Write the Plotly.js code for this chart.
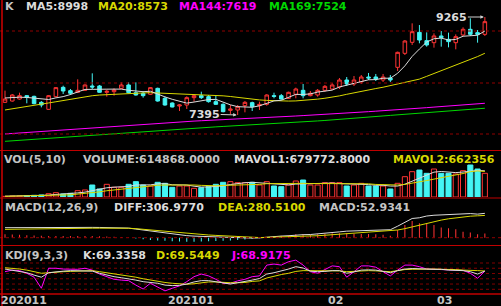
<!DOCTYPE html>
<html><head><meta charset="utf-8">
<script src="https://cdn.plot.ly/plotly-3.0.1.min.js"></script>
<style>html,body{margin:0;padding:0;background:#000;}#chart{width:501px;height:306px;}</style>
</head><body><div id="chart"></div>
<script>
// ---------------- DATA ----------------
const open = [7637,7662,7700,7764,7751,7637,7503,7745,7923,7860, 7828,7866,7949,7949,7828,7840,7904,7968,7821,7809, 7790,7904,7713,7624,7567,7586,7726,7764,7745,7650, 7599,7484,7491,7573,7631,7573,7599,7764,7764,7713, 7790,7866,7764,7777,7866,7891,7929,8063,7987,8025, 8120,8120,8063,8101,8305,8572,8782,8972,8814,8775, 8903,8839,8775,8922,9030,8966,8934];
const high = [7860,7796,7821,7777,7764,7662,7777,7929,7955,7891, 8076,7980,8190,7968,7879,7904,8018,8018,8018,7853, 7929,7917,7745,7637,7599,7751,7790,7840,7777,7764, 7618,7586,7586,7662,7650,7650,7790,7821,7796,7840, 7917,7987,7853,7891,7968,8006,8101,8120,8139,8158, 8197,8178,8178,8158,8604,8826,9144,9112,8972,8953, 8998,8966,8934,9068,9240,9017,9265];
const low = [7624,7650,7688,7618,7599,7541,7497,7732,7796,7777, 7815,7853,7885,7821,7745,7764,7891,7809,7764,7726, 7777,7650,7573,7541,7471,7510,7650,7700,7631,7586, 7446,7408,7395,7446,7471,7491,7573,7713,7688,7700, 7713,7713,7751,7745,7840,7872,7891,7949,7949,7987, 8063,8044,8025,8025,8235,8540,8731,8763,8699,8680, 8699,8686,8648,8903,8903,8775,8903];
const close = [7700,7777,7764,7732,7611,7586,7764,7917,7853,7809, 7866,7968,7929,7828,7847,7872,7968,7821,7777,7764, 7917,7662,7586,7548,7586,7726,7764,7726,7650,7599, 7459,7510,7554,7637,7554,7599,7777,7751,7700,7828, 7891,7764,7809,7866,7942,7968,8063,7987,8063,8120, 8101,8082,8120,8063,8591,8807,8985,8826,8731,8903, 8871,8795,8890,9030,8934,8934,9176];

const ma5 = [7720,7730,7735,7730,7717,7694,7691,7722,7746,7786, 7842,7883,7885,7880,7888,7889,7889,7867,7857,7840, 7849,7788,7741,7695,7660,7622,7642,7670,7690,7693, 7640,7589,7554,7552,7543,7571,7624,7664,7676,7731, 7789,7787,7798,7832,7854,7870,7930,7965,8005,8040, 8067,8071,8097,8097,8191,8333,8513,8654,8788,8850, 8863,8825,8838,8898,8904,8917,8998];
const ma20 = [7491,7512,7531,7550,7570,7600,7625,7648,7670,7695, 7725,7748,7763,7776,7785,7793,7799,7805,7810,7816, 7821,7816,7811,7808,7804,7800,7795,7787,7778,7770, 7761,7748,7730,7712,7695,7683,7674,7665,7662,7661, 7664,7672,7682,7698,7715,7732,7760,7790,7820,7848, 7875,7900,7925,7955,7985,8015,8045,8080,8133,8185, 8240,8290,8345,8400,8455,8510,8573];
const ma144 = [7033,7043,7054,7063,7072,7083,7092,7101,7112,7122, 7131,7141,7152,7161,7170,7181,7190,7199,7210,7220, 7229,7240,7250,7258,7265,7271,7279,7286,7292,7300, 7307,7313,7321,7328,7334,7342,7349,7355,7363,7370, 7376,7384,7391,7397,7405,7414,7422,7432,7441,7449, 7459,7468,7476,7486,7496,7505,7516,7526,7535,7546, 7556,7566,7578,7589,7599,7610,7619];
const ma169 = [6893,6903,6914,6923,6933,6944,6953,6962,6973,6983, 6993,7002,7013,7023,7032,7043,7053,7062,7073,7083, 7092,7103,7113,7121,7129,7136,7145,7153,7160,7169, 7177,7184,7193,7201,7208,7217,7225,7232,7241,7249, 7256,7265,7273,7282,7291,7300,7311,7322,7332,7344, 7355,7365,7377,7388,7398,7410,7421,7431,7443,7454, 7464,7474,7483,7494,7504,7514,7524];

const volume = [17000,26000,26000,35000,43000,52000,86000,112000,78000,95000, 164000,182000,311000,208000,329000,251000,251000,329000,398000,311000, 285000,381000,355000,251000,285000,285000,225000,242000,268000,329000, 381000,398000,372000,372000,381000,311000,398000,285000,268000,311000, 415000,441000,311000,311000,372000,372000,372000,285000,311000,355000, 285000,285000,285000,208000,355000,527000,657000,700000,614000,726000, 614000,614000,597000,683000,830000,726000,614868];
const mavol1 = [20000,22000,24000,27000,29000,36000,48000,66000,74000,85000, 107000,126000,166000,192000,239000,256000,270000,274000,312000,308000, 315000,341000,346000,317000,311000,311000,280000,258000,261000,270000, 289000,324000,350000,370000,381000,367000,367000,349000,329000,315000, 335000,344000,349000,358000,370000,361000,348000,342000,342000,339000, 322000,304000,304000,284000,284000,332000,406000,489000,571000,645000, 662000,654000,633000,647000,668000,690000,679772.8];
const mavol2 = [18000,20000,22000,24000,27000,32000,38000,45000,51000,57000, 72000,87000,116000,133000,162000,182000,198000,220000,252000,273000, 286000,305000,310000,314000,310000,313000,311000,302000,289000,291000, 300000,302000,304000,316000,325000,328000,345000,350000,350000,348000, 351000,355000,349000,343000,342000,348000,346000,346000,350000,355000, 342000,326000,323000,313000,311000,327000,355000,397000,427000,464000, 497000,530000,561000,609000,656000,676000,662356];

const diff = [126,127,127,127,126,125,125,125,126,127, 128,129,130,129,129,127,125,121,109,96, 83,70,56,45,35,26,20,16,11,8, 5,2,-1,-4,-5,-2,8,14.5,20.5,25, 34,38,40,46,56,65.5,73.5,82.5,86,90, 94,97,101,100.5,145,194,242,251,273,283, 287,297,304,301,304,297,306.977];
const dea = [105,107,109,111,112,113,114,115,116,117, 118,119,120,120,121,121,121,119,114,106, 97,87,76,67,59,51,45,40,34,29, 24,19,14,8,3,2,4,6,8,10, 13,17,21,25,31,38,46,55,61,67, 71,76,82,88,97,114,137,161,183,203, 222,238,252,263,271,276,280.51];
const macd = [42,40,36,32,28,24,22,20,20,20, 20,20,20,18,16,12,8,4,-10,-20, -28,-34,-40,-44,-48,-50,-50,-48,-46,-42, -38,-34,-30,-24,-16,-8,8,17,25,30, 42,42,38,42,50,55,55,55,50,46, 46,42,38,25,97,160,210,181,181,160, 130,118,105,76,67,42,52.9341];

const kdjK = [77,73,69,63,54,46,63,67,69,71, 71,71,69,61,54,48,44,40,35,29, 26,23,16,14,15,20,28,33,33,29, 23,20,25,29,35,41,58,63,69,77, 86,81,69,67,68,71,71,61,66,73, 74,73,68,63,71,77,79,79,77,76, 76,73,72,71,67,58,69.3358];
const kdjD = [82,80,77,73,67,61,63,66,67,68, 69,71,71,67,63,58,54,51,46,40, 35,32,26,23,20,19,21,25,28,28, 26,25,25,26,30,32,43,51,56,61, 68,71,71,71,71,71,70,67,68,71, 71,70,68,67,71,75,76,77,77,77, 76,76,75,73,73,71,69.5449];
const kdjJ = [67,73,71,61,46,4,80,80,77,77, 76,80,73,58,48,38,35,33,16,1, 23,7,-6,4,13,29,48,58,51,38, 23,23,32,38,48,51,92,96,92,105, 111,92,67,61,76,89,86,46,67,89, 89,84,67,51,73,92,92,86,77,76, 76,75,73,72,61,42,68.9175];

const tickLabels = ['202011','202101','02','03'];
const tickIdx = [0,23,45,60];

// ---------------- STYLE ----------------
const RED = '#ff3434', CYAN = '#44f4f4', WHITE = '#dcdcdc', YEL = '#d8d800', MAG = '#ff00ff', GRN = '#00d800', GRAY = '#c4c4c4';
const W = 501, H = 306;
const px = x => x / W, py = y => 1 - y / H;
const FONT = {family: 'DejaVu Sans', size: 11, weight: 'bold'};

const idx = close.map((_, i) => i);
const isUp = close.map((c, i) => c >= open[i]);
const last = a => a[a.length - 1];

const lineTrace = (y, color, ya) => ({x: idx, y, type: 'scatter', mode: 'lines', yaxis: ya,
  line: {color, width: 1}, hoverinfo: 'skip'});

const traces = [
  lineTrace(ma169, GRN, 'y'), lineTrace(ma144, MAG, 'y'), lineTrace(ma20, YEL, 'y'),
  {x: idx, open, high, low, close, type: 'candlestick', yaxis: 'y', whiskerwidth: 0,
   increasing: {line: {color: RED, width: 1}, fillcolor: '#000000'},
   decreasing: {line: {color: CYAN, width: 1}, fillcolor: CYAN}, hoverinfo: 'skip'},
  lineTrace(ma5, WHITE, 'y'),
  {x: idx, y: volume, type: 'bar', yaxis: 'y2', width: 0.7,
   marker: {color: isUp.map(u => u ? '#000000' : CYAN), line: {color: isUp.map(u => u ? RED : CYAN), width: 1}}, hoverinfo: 'skip'},
  lineTrace(mavol1, WHITE, 'y2'), lineTrace(mavol2, YEL, 'y2'),
  {x: idx, y: macd, type: 'bar', yaxis: 'y3', width: 0.14,
   marker: {color: macd.map(v => v >= 0 ? RED : CYAN), line: {width: 0}}, hoverinfo: 'skip'},
  lineTrace(diff, WHITE, 'y3'), lineTrace(dea, YEL, 'y3'),
  lineTrace(kdjJ, MAG, 'y4'), lineTrace(kdjD, YEL, 'y4'), lineTrace(kdjK, WHITE, 'y4')
];

const hidden = {showgrid: false, zeroline: false, showticklabels: false, ticks: '', showline: false, fixedrange: true};

const seg = (text, x, y, color) => ({text, x: px(x), y: py(y), xref: 'paper', yref: 'paper',
  xanchor: 'left', yanchor: 'middle', showarrow: false, borderpad: 0, font: Object.assign({}, FONT, {color})});

const hiI = high.indexOf(Math.max(...high));
const loI = low.indexOf(Math.min(...low));

const annotations = [
  seg('K', 4, 6.5, GRAY),
  seg('MA5:' + last(ma5), 25, 6.5, WHITE),
  seg('MA20:' + last(ma20), 97, 6.5, YEL),
  seg('MA144:' + last(ma144), 178, 6.5, MAG),
  seg('MA169:' + last(ma169), 268, 6.5, GRN),
  seg('VOL(5,10)', 3, 159.5, GRAY),
  seg('VOLUME:' + last(volume).toFixed(4), 82, 159.5, GRAY),
  seg('MAVOL1:' + last(mavol1).toFixed(4), 233, 159.5, WHITE),
  seg('MAVOL2:' + last(mavol2).toFixed(0), 392, 159.5, YEL),
  seg('MACD(12,26,9)', 4, 207.5, GRAY),
  seg('DIFF:' + last(diff).toFixed(4), 113, 207.5, WHITE),
  seg('DEA:' + last(dea).toFixed(4), 217, 207.5, YEL),
  seg('MACD:' + last(macd).toFixed(4), 318, 207.5, GRAY),
  seg('KDJ(9,3,3)', 4, 255, GRAY),
  seg('K:' + last(kdjK).toFixed(4), 82, 255, WHITE),
  seg('D:' + last(kdjD).toFixed(4), 155, 255, YEL),
  seg('J:' + last(kdjJ).toFixed(4), 230, 255, MAG),
  {x: hiI, y: high[hiI], xref: 'x', yref: 'y', text: String(high[hiI]), showarrow: true, ax: -33, ay: 0,
   arrowhead: 2, arrowsize: 0.7, arrowwidth: 1, arrowcolor: '#d0d0d0', standoff: 1, borderpad: 0, font: Object.assign({}, FONT, {color: WHITE})},
  {x: loI, y: low[loI], xref: 'x', yref: 'y', text: String(low[loI]), showarrow: true, ax: -33, ay: -1,
   arrowhead: 2, arrowsize: 0.7, arrowwidth: 1, arrowcolor: '#d0d0d0', standoff: 1, borderpad: 0, font: Object.assign({}, FONT, {color: WHITE})}
];
tickLabels.forEach((t, k) => annotations.push({text: t, x: tickIdx[k], xref: 'x', y: py(300), yref: 'paper',
  xanchor: 'left', yanchor: 'middle', showarrow: false, borderpad: 0, xshift: -5, font: Object.assign({}, FONT, {color: GRAY})}));

const hline = (y, color, dash, width) => ({type: 'line', xref: 'paper', yref: 'paper', x0: 0, x1: 1, y0: py(y), y1: py(y),
  line: {color, width: width || 1, dash: dash || 'solid'}});
const shapes = [
  hline(31, '#900000', 'dot'), hline(83, '#900000', 'dot'), hline(134, '#900000', 'dot'),
  hline(150.5, '#c00000'), hline(198, '#c00000'), hline(245.5, '#c00000'), hline(294, '#c00000', 'solid', 1.5),
  {type: 'line', xref: 'paper', yref: 'y3', x0: 0, x1: 1, y0: 0, y1: 0, line: {color: '#900000', width: 1, dash: 'dot'}},
  {type: 'line', xref: 'paper', yref: 'paper', x0: px(2), x1: px(2), y0: 0, y1: 1, line: {color: '#d00000', width: 1.5}}
];
[0, 20, 40, 60, 80, 100].forEach(v => shapes.push({type: 'line', xref: 'paper', yref: 'y4', x0: 0, x1: 1, y0: v, y1: v,
  line: {color: '#800000', width: 1, dash: 'dot'}, layer: 'below'}));

const layout = {
  width: W, height: H, margin: {l: 0, r: 0, t: 0, b: 0, pad: 0},
  paper_bgcolor: '#000000', plot_bgcolor: '#000000', showlegend: false, barmode: 'overlay', boxgap: 0.3,
  xaxis: Object.assign({}, hidden, {range: [-0.688, 68.22], rangeslider: {visible: false}, anchor: 'y4'}),
  yaxis: Object.assign({}, hidden, {domain: [py(150), 1], range: [9589.4 - 19.08 * 150, 9589.4], anchor: 'x'}),
  yaxis2: Object.assign({}, hidden, {domain: [py(197), py(150)], range: [0, 47 * 25944], anchor: 'x'}),
  yaxis3: Object.assign({}, hidden, {domain: [py(245), py(198)], range: [-(245 - 237.7) * 12.6, (237.7 - 198) * 12.6], anchor: 'x'}),
  yaxis4: Object.assign({}, hidden, {domain: [py(294), py(246)], range: [-(294 - 289.3) / 0.263, (289.3 - 246) / 0.263], anchor: 'x'}),
  annotations, shapes
};

Plotly.newPlot('chart', traces, layout, {staticPlot: true, displayModeBar: false});
</script></body></html>
